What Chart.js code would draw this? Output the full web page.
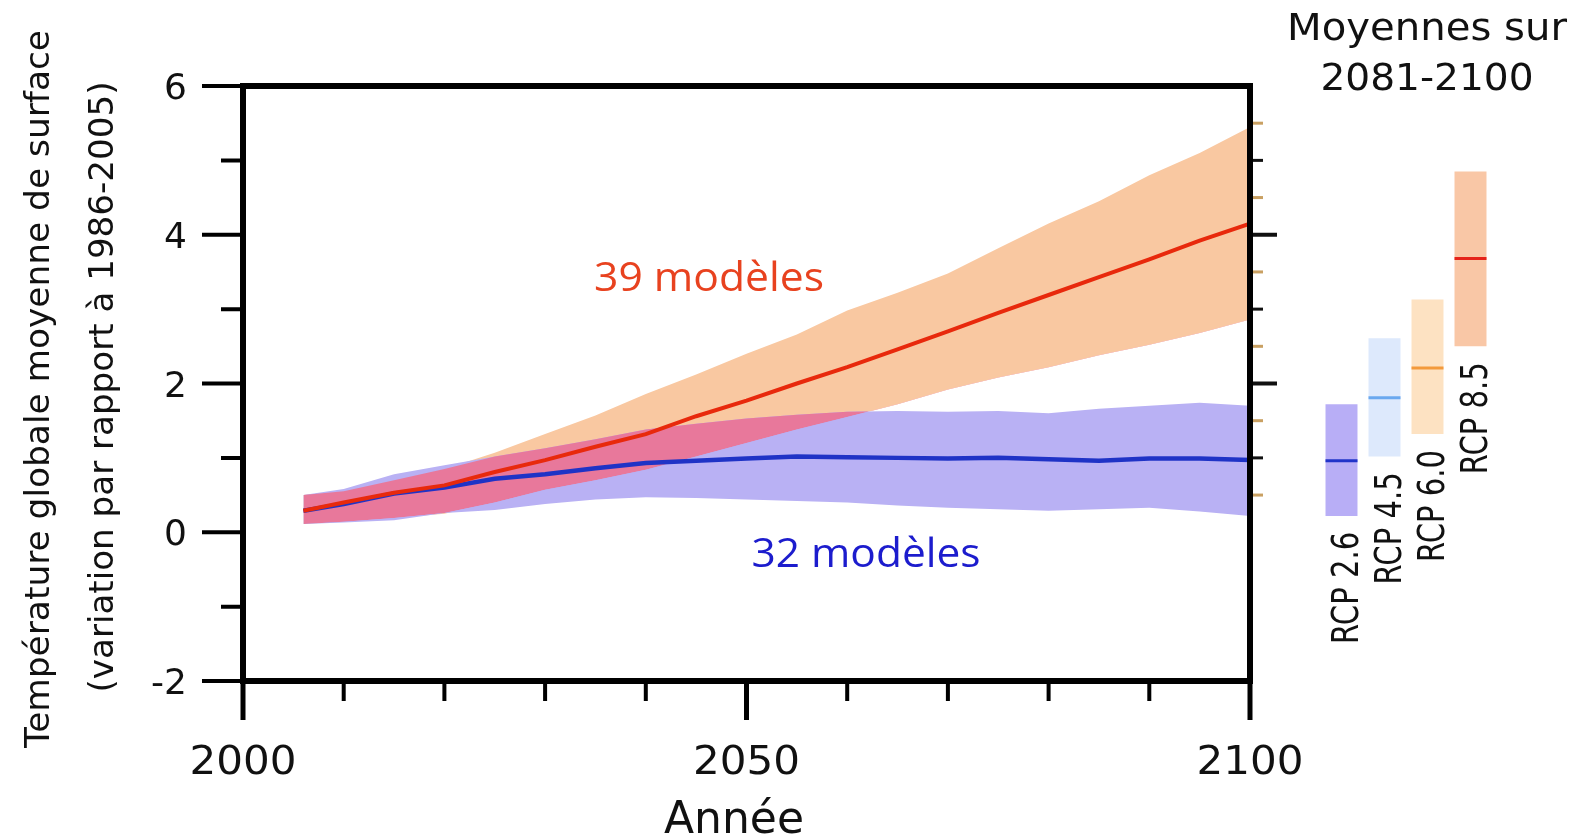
<!DOCTYPE html>
<html>
<head>
<meta charset="utf-8">
<script src="https://cdn.jsdelivr.net/npm/chart.js@4.4.1/dist/chart.umd.min.js"></script>
<style>
  html, body { margin: 0; padding: 0; background: #fff; overflow: hidden; }
  #wrap { position: relative; width: 1596px; height: 838px; }
  #wrap canvas { position: absolute; top: 0; }
</style>
</head>
<body>
<div id="wrap">
  <canvas id="main" width="1596" height="838" style="left:0"></canvas>
  <canvas id="rcp" width="172" height="838" style="left:1320px"></canvas>
</div>
<script>
// years (every 5 years from the start of the projections)
const years = [2006, 2010, 2015, 2020, 2025, 2030, 2035, 2040, 2045, 2050,
               2055, 2060, 2065, 2070, 2075, 2080, 2085, 2090, 2095, 2100];

// RCP 8.5 (39 modèles): multi-model mean and spread
const rcp85Mean = [0.29, 0.40, 0.53, 0.63, 0.81, 0.97, 1.15, 1.32, 1.56, 1.77,
                   2.00, 2.22, 2.46, 2.70, 2.95, 3.19, 3.43, 3.67, 3.92, 4.15];
const rcp85Low  = [0.11, 0.14, 0.19, 0.25, 0.40, 0.57, 0.70, 0.84, 1.02, 1.20,
                   1.38, 1.55, 1.72, 1.92, 2.08, 2.22, 2.38, 2.52, 2.68, 2.86];
const rcp85High = [0.50, 0.55, 0.70, 0.85, 1.07, 1.32, 1.57, 1.86, 2.12, 2.40,
                   2.66, 2.98, 3.22, 3.48, 3.82, 4.15, 4.45, 4.80, 5.10, 5.45];

// RCP 2.6 (32 modèles)
const rcp26Mean = [0.29, 0.38, 0.52, 0.60, 0.72, 0.78, 0.86, 0.93, 0.96, 0.99,
                   1.02, 1.01, 1.00, 0.99, 1.00, 0.98, 0.96, 0.99, 0.99, 0.97];
const rcp26Low  = [0.11, 0.13, 0.16, 0.26, 0.30, 0.38, 0.44, 0.47, 0.46, 0.44,
                   0.42, 0.40, 0.36, 0.33, 0.31, 0.29, 0.31, 0.33, 0.28, 0.22];
const rcp26High = [0.50, 0.58, 0.78, 0.90, 1.02, 1.13, 1.25, 1.38, 1.46, 1.53,
                   1.58, 1.62, 1.63, 1.62, 1.63, 1.60, 1.66, 1.70, 1.74, 1.70];

// 2081-2100 averages
const rcpLabels = ['RCP 2.6', 'RCP 4.5', 'RCP 6.0', 'RCP 8.5'];
const rcpLow  = [0.22, 1.02, 1.32, 2.50];
const rcpHigh = [1.72, 2.61, 3.13, 4.85];
const rcpMean = [0.96, 1.81, 2.21, 3.68];

// axis ticks
const xMajorTicks = [2000, 2050, 2100];
const xMinorTicks = [2010, 2020, 2030, 2040, 2060, 2070, 2080, 2090];
const yMajorTicks = [-2, 0, 2, 4, 6];
const yMinorTicks = [-1, 1, 3, 5];
const rightTicks = [0.5, 1, 1.5, 2, 2.5, 3, 3.5, 4, 4.5, 5, 5.5];

const orangeBand = '#f9c8a1';
const blueBand = '#b9b1f4';
const overlapBand = '#e8789b';
const redLine = '#e8290c';
const blueLine = '#1f33c6';

function drawText(ctx, text, x, y, o) {
    ctx.save();
    ctx.translate(x, y);
    if (o.rot) ctx.rotate(o.rot);
    ctx.font = o.size + 'px ' + (o.family || '"DejaVu Sans"');
    ctx.fillStyle = o.color || '#111';
    ctx.textAlign = o.align || 'center';
    ctx.textBaseline = 'alphabetic';
    if (o.width) {
        const w = ctx.measureText(text).width;
        ctx.scale(o.width / w, 1);
    }
    ctx.fillText(text, 0, o.size * 0.365);
    ctx.restore();
}

const pts = vals => years.map((yr, i) => ({ x: yr, y: vals[i] }));
const overlapLow = rcp85Low.map((v, i) => Math.max(v, rcp26Low[i]));
const overlapHigh = rcp85High.map((v, i) => Math.min(v, rcp26High[i]));

function edge(vals, order) {
    return { data: pts(vals), borderWidth: 0, borderColor: 'rgba(0,0,0,0)', pointRadius: 0, fill: false, order: order };
}

const axesPlugin = {
    id: 'axes',
    afterDraw(chart) {
        const ctx = chart.ctx;
        const a = chart.chartArea;
        const x = chart.scales.x, y = chart.scales.y;
        ctx.save();
        ctx.strokeStyle = '#000';
        ctx.lineCap = 'butt';

        // frame
        ctx.lineWidth = 6;
        ctx.beginPath();
        ctx.moveTo(a.left - 3, a.top); ctx.lineTo(a.right + 3, a.top);
        ctx.moveTo(a.left - 3, a.bottom); ctx.lineTo(a.right + 3, a.bottom);
        ctx.moveTo(a.left, a.top); ctx.lineTo(a.left, a.bottom);
        ctx.moveTo(a.right, a.top); ctx.lineTo(a.right, a.bottom);
        ctx.stroke();

        // left ticks
        ctx.lineWidth = 4;
        ctx.beginPath();
        yMajorTicks.forEach(v => { const p = y.getPixelForValue(v); ctx.moveTo(a.left - 41, p); ctx.lineTo(a.left, p); });
        yMinorTicks.forEach(v => { const p = y.getPixelForValue(v); ctx.moveTo(a.left - 22, p); ctx.lineTo(a.left, p); });
        ctx.stroke();

        // bottom ticks
        ctx.beginPath();
        xMinorTicks.forEach(v => { const p = x.getPixelForValue(v); ctx.moveTo(p, a.bottom); ctx.lineTo(p, a.bottom + 20); });
        ctx.stroke();
        ctx.lineWidth = 5;
        ctx.beginPath();
        xMajorTicks.forEach(v => { const p = x.getPixelForValue(v); ctx.moveTo(p, a.bottom); ctx.lineTo(p, a.bottom + 39); });
        ctx.stroke();

        // right-hand ticks
        rightTicks.forEach(v => {
            const p = y.getPixelForValue(v);
            const even = v % 2 === 0, whole = Number.isInteger(v);
            ctx.strokeStyle = whole ? '#111' : '#c9a062';
            ctx.lineWidth = even ? 4 : 3;
            ctx.beginPath();
            ctx.moveTo(a.right + 3, p);
            ctx.lineTo(a.right + (even ? 27 : 13), p);
            ctx.stroke();
        });

        // tick labels
        yMajorTicks.forEach(v => {
            drawText(ctx, String(v), a.left - 56, y.getPixelForValue(v), { size: 36, align: 'right' });
        });
        xMajorTicks.forEach(v => {
            drawText(ctx, String(v), x.getPixelForValue(v), 760, { size: 39, width: 107 });
        });

        // axis titles
        drawText(ctx, 'Année', 734, 817, { size: 44 });
        drawText(ctx, 'Température globale moyenne de surface', 37, 389,
                 { size: 34, rot: -Math.PI / 2, width: 718 });
        drawText(ctx, '(variation par rapport à 1986-2005)', 101, 387,
                 { size: 34, rot: -Math.PI / 2, width: 611 });

        // annotations
        drawText(ctx, '39 modèles', 709, 276, { size: 40, family: '"Open Sans"', width: 230, color: '#e8421f' });
        drawText(ctx, '32 modèles', 866, 552, { size: 40, family: '"Open Sans"', width: 229, color: '#1c1ccd' });
        drawText(ctx, 'Moyennes sur', 1427, 26, { size: 37, width: 280 });
        drawText(ctx, '2081-2100', 1427, 76, { size: 37, width: 213 });
        ctx.restore();
    }
};

new Chart(document.getElementById('main'), {
    type: 'line',
    data: {
        datasets: [
            edge(rcp85Low, 5),
            { data: pts(rcp85High), borderWidth: 0, borderColor: 'rgba(0,0,0,0)', pointRadius: 0,
              backgroundColor: orangeBand, fill: { target: 0 }, order: 5 },
            edge(rcp26Low, 4),
            { data: pts(rcp26High), borderWidth: 0, borderColor: 'rgba(0,0,0,0)', pointRadius: 0,
              backgroundColor: blueBand, fill: { target: 2 }, order: 4 },
            edge(overlapLow, 3),
            { data: pts(overlapHigh), borderWidth: 0, borderColor: 'rgba(0,0,0,0)', pointRadius: 0,
              fill: { target: 4, above: overlapBand, below: 'rgba(0,0,0,0)' }, order: 3 },
            { label: 'RCP 2.6', data: pts(rcp26Mean), borderColor: blueLine, borderWidth: 4.5,
              pointRadius: 0, fill: false, order: 2 },
            { label: 'RCP 8.5', data: pts(rcp85Mean), borderColor: redLine, borderWidth: 4,
              pointRadius: 0, fill: false, order: 1 }
        ]
    },
    options: {
        responsive: false,
        animation: false,
        events: [],
        layout: { autoPadding: false, padding: { left: 243, right: 346, top: 86, bottom: 157 } },
        plugins: { legend: { display: false }, tooltip: { enabled: false } },
        scales: {
            x: { type: 'linear', min: 2000, max: 2100, display: false },
            y: { min: -2, max: 6, display: false }
        }
    },
    plugins: [axesPlugin]
});

const rcpTextPlugin = {
    id: 'rcpText',
    afterDraw(chart) {
        const ctx = chart.ctx;
        const x = chart.scales.x, y = chart.scales.y;
        rcpLabels.forEach((lab, i) => {
            drawText(ctx, lab, x.getPixelForValue(i) + 3, y.getPixelForValue(rcpLow[i]) + 16,
                     { size: 38, rot: -Math.PI / 2, align: 'right', width: 112 });
        });
    }
};

new Chart(document.getElementById('rcp'), {
    type: 'bar',
    data: {
        labels: rcpLabels,
        datasets: [
            { type: 'line', data: rcpMean, showLine: false, pointStyle: 'line', pointRadius: 16,
              pointBorderWidth: 3, pointBorderColor: ['#2134c9', '#6aa8ef', '#f39a3c', '#e5231a'], order: 0 },
            { data: rcpLow.map((v, i) => [v, rcpHigh[i]]),
              backgroundColor: ['#b8aef6', '#dde9fc', '#fde2c2', '#f9c7a6'],
              barPercentage: 0.744, categoryPercentage: 1, order: 1 }
        ]
    },
    options: {
        responsive: false,
        animation: false,
        events: [],
        layout: { autoPadding: false, padding: { left: 0, right: 0, top: 86, bottom: 157 } },
        plugins: { legend: { display: false }, tooltip: { enabled: false } },
        scales: {
            x: { display: false },
            y: { min: -2, max: 6, display: false }
        }
    },
    plugins: [rcpTextPlugin]
});
</script>
</body>
</html>
